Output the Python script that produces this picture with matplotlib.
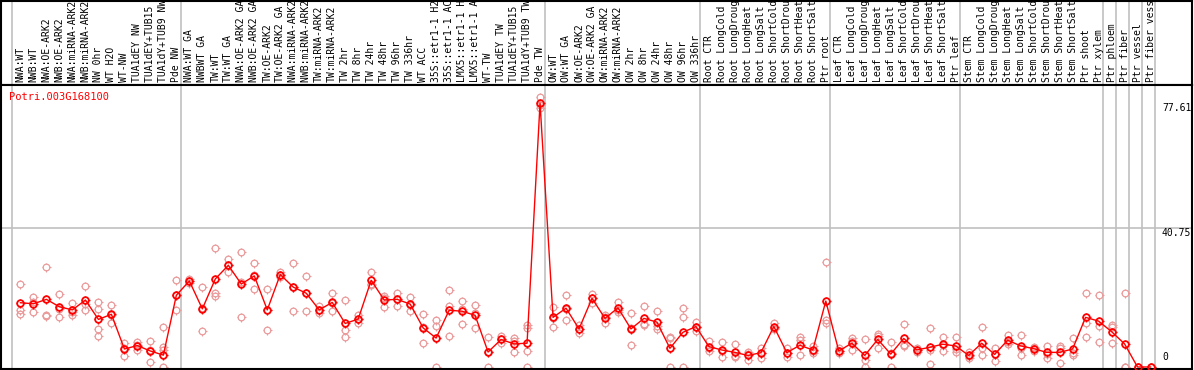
import numpy as np
import matplotlib
matplotlib.use('Agg')
import matplotlib.pyplot as plt
from matplotlib.path import Path

# sample names, grouped as in the browser view
groups = [
    ['NWA:WT', 'NWB:WT', 'NWA:OE-ARK2', 'NWB:OE-ARK2', 'NWA:miRNA-ARK2', 'NWB:miRNA-ARK2',
     'NW 0hr', 'WT H2O', 'WT-NW', 'TUA1dEY NW', 'TUA1dEY+TUB15 NW', 'TUA1dY+TUB9 NW', 'Pde NW'],
    ['NWA:WT GA', 'NWBWT GA', 'TW:WT', 'TW:WT GA', 'NWA:OE-ARK2 GA', 'NWB:OE-ARK2 GA',
     'TW:OE-ARK2', 'TW:OE-ARK2 GA', 'NWA:miRNA-ARK2 GA', 'NWB:miRNA-ARK2 GA', 'TW:miRNA-ARK2',
     'TW:miRNA-ARK2', 'TW 2hr', 'TW 8hr', 'TW 24hr', 'TW 48hr', 'TW 96hr', 'TW 336hr', 'WT ACC',
     '35S::etr1-1 H2O', '35S::etr1-1 ACC', 'LMX5::etr1-1 H2O', 'LMX5::etr1-1 ACC', 'WT-TW',
     'TUA1dEY TW', 'TUA1dEY+TUB15 TW', 'TUA1dY+TUB9 TW', 'Pde TW'],
    ['OW:WT', 'OW:WT GA', 'OW:OE-ARK2', 'OW:OE-ARK2 GA', 'OW:miRNA-ARK2', 'OW:miRNA-ARK2',
     'OW 2hr', 'OW 8hr', 'OW 24hr', 'OW 48hr', 'OW 96hr', 'OW 336hr'],
    ['Root CTR', 'Root LongCold', 'Root LongDrought', 'Root LongHeat', 'Root LongSalt',
     'Root ShortCold', 'Root ShortDrought', 'Root ShortHeat', 'Root ShortSalt', 'Ptr root'],
    ['Leaf CTR', 'Leaf LongCold', 'Leaf LongDrought', 'Leaf LongHeat', 'Leaf LongSalt',
     'Leaf ShortCold', 'Leaf ShortDrought', 'Leaf ShortHeat', 'Leaf ShortSalt', 'Ptr leaf'],
    ['Stem CTR', 'Stem LongCold', 'Stem LongDrought', 'Stem LongHeat', 'Stem LongSalt',
     'Stem ShortCold', 'Stem ShortDrought', 'Stem ShortHeat', 'Stem ShortSalt', 'Ptr shoot', 'Ptr xylem'],
    ['Ptr phloem'], ['Ptr fiber'], ['Ptr vessel'], ['Ptr fiber vessel'],
]

means = [18.9, 18.6, 19.9, 17.7, 16.8, 19.7, 14.0, 15.5, 5.3, 6.3, 4.7, 3.5, 21.1,
         25.3, 17.1, 25.9, 29.9, 24.4, 26.8, 16.8, 27.2, 23.5, 21.7, 16.8, 19.0, 12.8, 14.1,
         25.5, 19.7, 19.9, 18.5, 11.5, 8.5, 16.7, 16.4, 15.2, 4.4, 8.1, 6.8, 7.0, 77.61,
         14.6, 17.3, 11.2, 20.2, 14.3, 17.4, 11.2, 14.3, 13.2, 5.5, 10.2, 11.9,
         6.0, 5.0, 4.3, 3.4, 4.2, 11.9, 4.2, 6.4, 5.0, 19.4,
         4.7, 7.0, 3.4, 8.1, 3.8, 8.4, 5.0, 5.8, 6.7, 6.2,
         3.4, 7.0, 3.7, 7.9, 6.2, 5.4, 4.3, 4.3, 5.3, 14.6, 13.5,
         10.4, 6.8, 0, 0]

reps = [[24.4, 16.8, 15.6], [20.5, 16.1, 19.2], [29.4, 14.9, 15.4], [21.4, 14.6, 17.1],
        [18.9, 15.3, 16.2], [23.8, 16.8, 18.5], [19.2, 17.0, 11.2, 9.0], [18.3, 12.8, 15.4],
        [7.2, 3.1, 5.6], [7.3, 6.5, 5.1], [7.6, 1.4, 5.1], [11.7, 6.0, 5.0, 0],
        [25.5, 16.7, 21.1], [25.8, 24.8, 25.3], [23.4, 10.5, 17.4], [35.0, 21.9, 20.9],
        [31.7, 27.9, 30.1], [33.7, 14.6, 24.9], [30.6, 22.8, 27.0], [22.8, 10.9, 16.7],
        [28.0, 27.0, 26.6], [30.6, 16.5, 23.4], [26.8, 16.6, 21.7], [17.9, 15.8, 16.7],
        [21.8, 16.5, 18.7], [19.7, 10.9, 8.8], [13.0, 15.2, 14.1], [27.9, 24.4, 24.2],
        [21.0, 17.7, 20.4], [21.8, 18.0, 19.9], [20.6, 16.6, 18.3], [15.6, 7.0, 11.9],
        [13.8, 12.1, 0], [22.6, 17.9, 9.2], [19.4, 12.6, 17.2], [18.2, 11.4, 16.0],
        [8.7, 0, 4.5], [9.1, 7.1, 8.1], [8.4, 4.4, 7.6], [12.4, 11.4, 4.6, 0],
        [79.5, 76.2, 77.1], [17.6, 11.9, 14.3], [21.2, 13.8, 17.0], [12.4, 9.9, 11.3],
        [21.5, 18.9, 20.2], [15.3, 13.0, 14.6], [19.1, 16.3, 16.8], [15.8, 6.4, 11.4],
        [17.8, 12.6, 12.5], [16.4, 11.1, 12.1], [8.9, 8.4, 0], [17.3, 14.6, 0],
        [13.3, 10.7, 11.7], [7.6, 4.8, 5.6], [7.4, 2.9, 4.7], [6.7, 2.9, 3.3],
        [4.4, 2.1, 3.7], [5.7, 2.7, 4.2], [12.8, 11.6, 11.3], [5.5, 3.0, 4.1],
        [8.7, 7.9, 3.4], [6.3, 4.0, 4.7], [30.8, 13.8, 13.0], [5.5, 4.0, 4.6],
        [8.4, 5.0, 7.6], [8.1, 0, 2.1], [9.7, 5.5, 9.1], [7.3, 0, 4.1],
        [12.6, 6.5, 6.1], [5.5, 4.4, 5.1], [11.5, 0.8, 5.1], [8.7, 4.8, 6.6],
        [8.9, 4.3, 5.4], [4.5, 2.6, 3.1], [11.9, 3.5, 5.6], [5.5, 1.8, 3.8],
        [9.5, 6.8, 7.4], [9.3, 3.6, 5.7], [5.9, 4.6, 5.7], [6.3, 2.7, 3.9],
        [6.3, 1.1, 5.5], [8.4, 3.5, 4.0], [21.7, 13.0, 8.7], [21.1, 12.1, 7.3],
        [12.4, 7.0, 11.8], [21.7, 0, 0], [0, 0, 0], [0, 0, 0]]

gene = 'Potri.003G168100'
yticks = [0, 40.75, 77.61]

labels = [s for g in groups for s in g]
x = np.arange(len(labels))
starts = np.cumsum([0] + [len(g) for g in groups])

# short ticks around each circle (drawn as a separate marker)
ticks = Path([(0, 1), (0, 1.35), (0, -1), (0, -1.35), (1, 0), (1.35, 0), (-1, 0), (-1.35, 0)],
             [Path.MOVETO, Path.LINETO] * 4)

W, H = 1194, 370
fig = plt.figure(figsize=(W / 100, H / 100), dpi=100)
font = 'DejaVu Sans Mono'
red = '#ff0000'
pink = '#eb9a9a'

xl = (-19.5 / 13, (1192 - 19.5) / 13)
ax_lab = fig.add_axes([1 / W, 1 - 85 / H, 1191 / W, 84 / H])
ax = fig.add_axes([1 / W, 1 / H, 1191 / W, 284 / H])

for a in (ax_lab, ax):
    a.set_xlim(*xl)
    a.set_xticks([])
    a.set_yticks([])
    for s in a.spines.values():
        s.set_color('black')
        s.set_linewidth(1.5)
    for b in starts:
        a.axvline(b - 0.654, color='#c0c0c0', lw=1.2, zorder=0)

ax_lab.set_ylim(0, 1)
for xi, lab in zip(x, labels):
    ax_lab.text(xi, 0.03, lab, rotation=90, ha='center', va='bottom', fontsize=7,
                family=font, clip_on=False)

ax.set_ylim(-2 / 3.4, (367 - 85) / 3.4)
ax.axhline(yticks[1], color='#c0c0c0', lw=1.2, zorder=0)

ms = 4.8
for xi, r in zip(x, reps):
    xs = [xi] * len(r)
    ax.plot(xs, r, ls='none', marker='o', ms=ms, mfc='none', mec=pink, mew=0.9, zorder=2)
    ax.plot(xs, r, ls='none', marker=ticks, ms=ms * 1.35, mec=pink, mew=0.8, zorder=2)
ax.plot(x, means, color=red, lw=1, zorder=3)
ax.plot(x, means, ls='none', marker='o', ms=ms, mfc='none', mec=red, mew=1.3, zorder=4)
ax.plot(x, means, ls='none', marker=ticks, ms=ms * 1.35, mec=red, mew=1.0, zorder=4)

ytr = ax.get_yaxis_transform()
tx = (1162 - 1) / 1191
ax.text(tx, yticks[2], '77.61', transform=ytr, ha='left', va='top', fontsize=7, family=font)
ax.text(tx, yticks[1], '40.75', transform=ytr, ha='left', va='top', fontsize=7, family=font)
ax.text(tx, yticks[0] + 1.5, '0', transform=ytr, ha='left', va='bottom', fontsize=7,
        family=font)

fig.text(9 / W, 1 - 97 / H, gene, color=red, fontsize=7.5, family=font, ha='left', va='center')

fig.savefig('out.png', dpi=100)
